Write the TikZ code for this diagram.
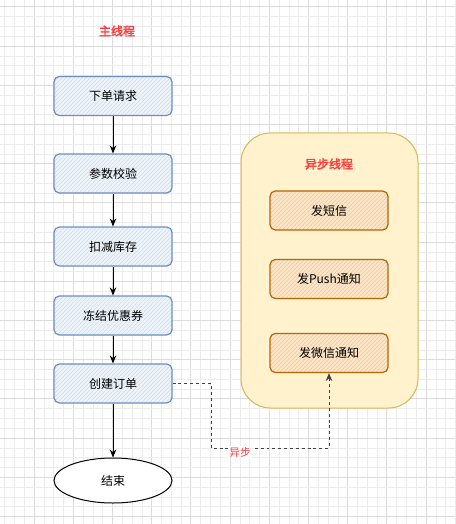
\documentclass[tikz,border=0pt]{standalone}
\usepackage{fontspec}
\setmainfont{Noto Sans CJK SC}[AutoFakeBold=2.5]
\usetikzlibrary{patterns,arrows.meta,shapes.geometric}
\definecolor{gridminor}{HTML}{EDEDED}
\definecolor{gridmajor}{HTML}{DCDCDC}
\definecolor{blueline}{HTML}{6C8EBF}
\definecolor{bluefill}{HTML}{EFF4FB}
\definecolor{bluehatch}{HTML}{CCDDF2}
\definecolor{orline}{HTML}{B46504}
\definecolor{orfill}{HTML}{FCE6C8}
\definecolor{orhatch}{HTML}{F2C98F}
\definecolor{contfill}{HTML}{FFF2CC}
\definecolor{contline}{HTML}{D6B656}
\definecolor{titlered}{HTML}{FF3B3B}
\tikzset{
  x=0.75pt,y=-0.75pt,
  bluebox/.style={draw=blueline,line width=0.9pt,rounded corners=4pt,
    preaction={fill=bluefill},pattern={north east lines},pattern color=bluehatch,
    minimum width=88.5pt,minimum height=29.25pt,font=\fontsize{9}{10}\selectfont,text=black},
  orbox/.style={draw=orline,line width=0.9pt,rounded corners=4pt,
    preaction={fill=orfill},pattern={north east lines},pattern color=orhatch,
    minimum width=88.5pt,minimum height=29.25pt,font=\fontsize{9}{10}\selectfont,text=black},
  endell/.style={draw=black,line width=0.75pt,fill=white,ellipse,
    minimum width=88.5pt,minimum height=33.75pt,font=\fontsize{9}{10}\selectfont},
  ttl/.style={text=titlered,font=\fontsize{9}{10}\selectfont\bfseries},
  flow/.style={draw=black,line width=0.75pt,-{Stealth[length=6pt,width=5pt]}},
  async/.style={draw=black!75,line width=0.75pt,dash pattern=on 2.2pt off 2.2pt,-{Stealth[length=6pt,width=5pt]}},
}
\begin{document}
\begin{tikzpicture}
\useasboundingbox (0,0) rectangle (455,524);
\fill[white] (0,0) rectangle (455,524);
\foreach \k in {0,...,46}{
  \pgfmathsetmacro\xx{4.6+9.8*\k}
  \pgfmathtruncatemacro\m{mod(\k,4)}
  \ifnum\m=3 \draw[gridmajor,line width=0.5pt] (\xx,0) -- (\xx,524);
  \else \draw[gridminor,line width=0.4pt] (\xx,0) -- (\xx,524); \fi
}
\foreach \k in {0,...,53}{
  \pgfmathsetmacro\yy{6.8+9.8*\k}
  \pgfmathtruncatemacro\m{mod(\k,4)}
  \ifnum\m=0 \draw[gridmajor,line width=0.5pt] (0,\yy) -- (455,\yy);
  \else \draw[gridminor,line width=0.4pt] (0,\yy) -- (455,\yy); \fi
}
% container
\draw[draw=contline,fill=contfill,line width=0.75pt,rounded corners=22pt] (241,133) rectangle (418,408);
\node[ttl] (t1) at (117,31) {主线程};
\node[ttl] (t2) at (329,164) {异步线程};
% main flow
\node[bluebox] (n1) at (113,96) {下单请求};
\node[bluebox] (n2) at (113,173.5) {参数校验};
\node[bluebox] (n3) at (113,246.5) {扣减库存};
\node[bluebox] (n4) at (113,315.5) {冻结优惠券};
\node[bluebox] (n5) at (113,383.5) {创建订单};
\node[endell] (n6) at (113,480.5) {结束};
% async
\node[orbox] (a1) at (329,210.5) {发短信};
\node[orbox] (a2) at (329,279) {发Push通知};
\node[orbox] (a3) at (329,353) {发微信通知};
\draw[flow] (n1) -- (n2);
\draw[flow] (n2) -- (n3);
\draw[flow] (n3) -- (n4);
\draw[flow] (n4) -- (n5);
\draw[flow] (n5) -- (n6);
\coordinate (d1) at (211,448);
\draw[async] (n5.east) -| (d1) -| (a3.south);
\node[fill=white,inner sep=1pt,text=titlered,font=\fontsize{8}{9}\selectfont] (lbl) at (240,452) {异步};
\end{tikzpicture}
\end{document}
